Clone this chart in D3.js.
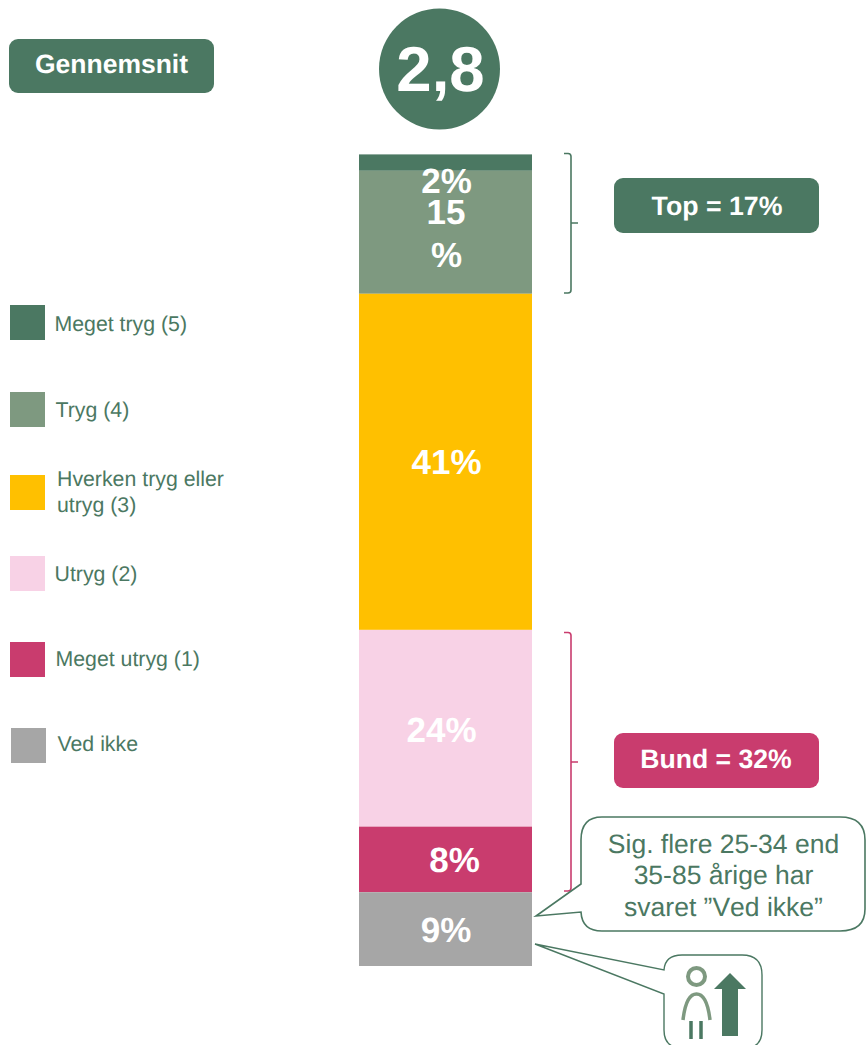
<!DOCTYPE html>
<html><head><meta charset="utf-8">
<script src="https://cdn.jsdelivr.net/npm/d3@7/dist/d3.min.js"></script>
<style>html,body{margin:0;padding:0;background:#fff}svg{display:block}text{font-family:"Liberation Sans",Arial,sans-serif;text-rendering:geometricPrecision}</style>
</head><body><svg id="c" width="866" height="1045"></svg>
<script>
const categories = ["Meget tryg (5)", "Tryg (4)", "Hverken tryg eller utryg (3)", "Utryg (2)", "Meget utryg (1)", "Ved ikke"];
const values = [2, 15, 41, 24, 8, 9];
const colors = ["#4b7862", "#7e9980", "#ffc000", "#f8d2e6", "#c93c6e", "#a6a6a6"];
const legendSwatchY = [305, 392, 475, 556, 642, 728];
const legendSwatchX = [10, 10, 10, 10, 10, 11];
const legendTextX = [54.5, 55.5, 57, 54.5, 55.5, 57.5];
const legendTextY = [[331], [416.5], [485.5, 512], [580.5], [665.5], [750.5]];
const legendLines = [["Meget tryg (5)"], ["Tryg (4)"], ["Hverken tryg eller", "utryg (3)"], ["Utryg (2)"], ["Meget utryg (1)"], ["Ved ikke"]];
const average = "2,8";
const GREEN = "#4b7862", PINK = "#c93c6e";

const svg = d3.select("#c");
const total = d3.sum(values);
const y = d3.scaleLinear().domain([0, total]).range([154.4, 966]);
const x = d3.scaleBand().domain(["all"]).range([359, 532]);
let acc = 0;
const stack = values.map((v, i) => { const s = {v, i, y0: acc, y1: acc + v}; acc += v; return s; });

// bars
svg.selectAll("rect.seg").data(stack).join("rect").attr("class", "seg")
  .attr("x", x("all")).attr("width", x.bandwidth())
  .attr("y", d => y(d.y0)).attr("height", d => y(d.y1) - y(d.y0))
  .attr("fill", d => colors[d.i]);

// bar labels
function label(t, cx, cy, size) {
  svg.append("text").attr("x", cx).attr("y", cy).attr("text-anchor", "middle")
    .attr("font-size", size).attr("font-weight", "bold").attr("fill", "#fff").text(t);
}
const mid = x("all") + x.bandwidth() / 2;
const barLabels = [
  {t: "2%", i: 0, dy: 30, dx: 1}, {t: "15", i: 1, dy: -8.5, dx: 0.5}, {t: "%", i: 1, dy: 35, dx: 1},
  {t: "41%", i: 2, dy: 12, dx: 1}, {t: "24%", i: 3, dy: 14, dx: -4}, {t: "8%", i: 4, dy: 12.5, dx: 9}, {t: "9%", i: 5, dy: 13, dx: 0.5}
];
barLabels.forEach(l => {
  const s = stack[l.i];
  label(l.t, mid + l.dx, (y(s.y0) + y(s.y1)) / 2 + l.dy, 35);
});

// legend
categories.forEach((c, i) => {
  svg.append("rect").attr("x", legendSwatchX[i]).attr("y", legendSwatchY[i]).attr("width", 35).attr("height", 35).attr("fill", colors[i]);
  legendLines[i].forEach((ln, j) => {
    svg.append("text").attr("x", legendTextX[i]).attr("y", legendTextY[i][j])
      .attr("font-size", 21.3).attr("fill", GREEN).text(ln);
  });
});

// average
function pill(px, py, w, h, fill, t, size, tx, ty) {
  svg.append("rect").attr("x", px).attr("y", py).attr("width", w).attr("height", h).attr("rx", 9).attr("fill", fill);
  svg.append("text").attr("x", tx).attr("y", ty)
    .attr("text-anchor", "middle").attr("font-size", size).attr("font-weight", "bold").attr("fill", "#fff").text(t);
}
pill(9, 39, 205, 54, GREEN, "Gennemsnit", 26.5, 111.5, 73);
svg.append("circle").attr("cx", 439.5).attr("cy", 69).attr("r", 60.5).attr("fill", GREEN);
svg.append("text").attr("x", 440.5).attr("y", 91).attr("text-anchor", "middle").attr("font-size", 63.5)
  .attr("font-weight", "bold").attr("fill", "#fff").text(average);

pill(614, 178, 205, 55, GREEN, "Top = " + d3.sum(values.slice(0, 2)) + "%", 26.7, 717, 215);
pill(614, 733, 205, 55, PINK, "Bund = " + d3.sum(values.slice(3, 5)) + "%", 26.6, 716, 768);

// brackets
function brace(y0, y1, ym, col) {
  svg.append("path").attr("fill", "none").attr("stroke", col).attr("stroke-width", 1.6)
    .attr("d", `M564,${y0}h4q3,0 3,3V${ym}h7M571,${ym}V${y1-3}q0,3 -3,3h-4`);
}
brace(153.5, 293, 223, GREEN);
brace(632.5, 891, 762, PINK);

// callout
svg.append("path").attr("fill", "#fff").attr("stroke", GREEN).attr("stroke-width", 1.6)
  .attr("d", "M602,817H840Q865,817 865,840V909Q865,931 840,931H602Q582,931 581,912L536,916L581,884V840Q581,817 602,817Z");
["Sig. flere 25-34 end", "35-85 årige har", "svaret ”Ved ikke”"].forEach((t, i) => {
  svg.append("text").attr("x", 723.5).attr("y", 852.5 + i * 31.5).attr("text-anchor", "middle")
    .attr("font-size", 26.5).style("font-kerning", "none").attr("fill", GREEN).text(t);
});

// icon bubble
svg.append("path").attr("fill", "#fff").attr("stroke", GREEN).attr("stroke-width", 1.4)
  .attr("d", "M535,944L664,970Q665,955 682,955H742Q762,955 762,975V1030Q762,1048 745,1048H682Q664,1048 664,1030V994Z");
svg.append("circle").attr("cx", 696.5).attr("cy", 976.5).attr("r", 8.5).attr("fill", "none").attr("stroke", "#7e9980").attr("stroke-width", 4);
svg.append("path").attr("fill", "none").attr("stroke", "#7e9980").attr("stroke-width", 3.5)
  .attr("d", "M683,1020Q686,994 696.5,994Q707,994 710,1020");
svg.append("path").attr("fill", "none").attr("stroke", GREEN).attr("stroke-width", 3.5)
  .attr("d", "M691,1021V1039M701,1021V1039");
svg.append("path").attr("fill", GREEN)
  .attr("d", "M730,973L746,989H738V1036H722V989H714Z");
</script></body></html>
